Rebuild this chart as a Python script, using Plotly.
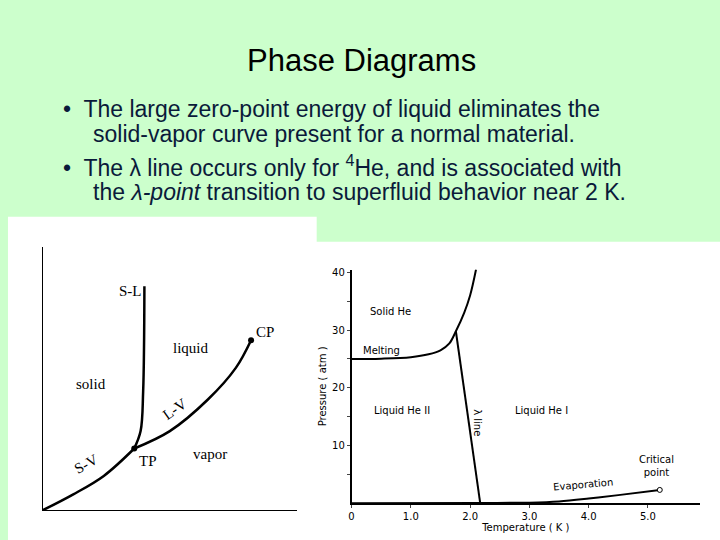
import plotly.graph_objects as go

# left: generic phase diagram (arbitrary units)
sv_t = [0, 1.2, 2.4, 3.6]
sv_p = [0, 0.6, 1.3, 2.34]
sl_t = [3.6, 3.85, 3.95, 4.0]
sl_p = [2.34, 3.0, 4.5, 8.5]
lv_t = [3.6, 5.0, 6.5, 7.6, 8.2]
lv_p = [2.34, 3.0, 4.2, 5.4, 6.45]

# right: helium-4 phase diagram
melt_t = [0, 0.5, 1.0, 1.3, 1.5, 1.65, 1.76, 1.9, 2.0, 2.1]
melt_p = [25, 25.05, 25.3, 25.8, 26.5, 27.7, 29.8, 33, 36, 40.5]
lam_t = [1.76, 2.17]
lam_p = [29.8, 0.05]
evap_t = [0, 2.17, 3.0, 3.5, 4.0, 4.5, 5.2]
evap_p = [0, 0.05, 0.1, 0.3, 0.8, 1.4, 2.3]

fig = go.Figure()
ln = dict(color='black', width=2.5)
for x, y in [(sv_t, sv_p), (sl_t, sl_p), (lv_t, lv_p)]:
    fig.add_trace(go.Scatter(x=x, y=y, mode='lines', line=dict(shape='spline', **ln),
                             xaxis='x', yaxis='y'))
fig.add_trace(go.Scatter(x=[sv_t[-1], lv_t[-1]], y=[sv_p[-1], lv_p[-1]], mode='markers',
                         marker=dict(color='black', size=6), xaxis='x', yaxis='y'))
for x, y in [(melt_t, melt_p), (lam_t, lam_p), (evap_t, evap_p)]:
    fig.add_trace(go.Scatter(x=x, y=y, mode='lines', line=dict(shape='spline', color='black', width=2),
                             xaxis='x2', yaxis='y2'))
fig.add_trace(go.Scatter(x=[evap_t[-1]], y=[evap_p[-1]], mode='markers',
                         marker=dict(color='white', size=5, line=dict(color='black', width=1)),
                         xaxis='x2', yaxis='y2'))

serif = dict(family='Liberation Serif', size=15, color='black')
sans = dict(family='DejaVu Sans', size=10, color='black')
ann = []
for t, x, y, ang in [('S-L', 3.45, 8.3, 0), ('liquid', 5.85, 6.15, 0), ('solid', 1.9, 4.8, 0),
                     ('CP', 8.75, 6.75, 0), ('L-V', 5.2, 3.85, -35), ('vapor', 6.6, 2.15, 0),
                     ('TP', 4.15, 1.85, 0), ('S-V', 1.7, 1.75, -30)]:
    ann.append(dict(text=t, x=x, y=y, xref='x', yref='y', showarrow=False, font=serif, textangle=ang))
ann.append(dict(text='<i>P</i>', x=0, y=10.3, xref='x', yref='y', showarrow=False, font=serif))
ann.append(dict(text='<i>T</i>', x=10.3, y=0, xref='x', yref='y', showarrow=False, font=serif))
for t, x, y, ang in [('Solid He', 0.65, 33.2, 0), ('Melting', 0.5, 26.4, 0),
                     ('Liquid He II', 0.85, 16, 0), ('Liquid He I', 3.2, 16, 0),
                     ('λ line', 2.12, 14, 90), ('Evaporation', 3.9, 3.3, -5),
                     ('Critical<br>point', 5.15, 6.5, 0)]:
    ann.append(dict(text=t, x=x, y=y, xref='x2', yref='y2', showarrow=False, font=sans, textangle=ang))

ann.append(dict(text='Phase Diagrams', x=0.5, y=1 - 58 / 540, xref='paper', yref='paper',
                xanchor='center', yanchor='middle',
                showarrow=False, font=dict(family='Liberation Sans', size=31, color='black')))
bul = dict(family='Liberation Sans', size=23, color='#0a1a3a')
lines = [(107, '•  The large zero-point energy of liquid eliminates the', 58),
         (132, 'solid-vapor curve present for a normal material.', 88),
         (164, '•  The λ line occurs only for <sup>4</sup>He, and is associated with', 58),
         (190, 'the <i>λ-point</i> transition to superfluid behavior near 2 K.', 88)]
for py, t, px in lines:
    ann.append(dict(text=t, x=px / 720, y=1 - py / 540, xref='paper', yref='paper', xanchor='left',
                    yanchor='middle', showarrow=False, font=bul))

fig.update_layout(
    width=720, height=540, margin=dict(l=0, r=0, t=0, b=0), showlegend=False,
    paper_bgcolor='#ccffcc', plot_bgcolor='rgba(0,0,0,0)', annotations=ann,
    shapes=[dict(type='rect', xref='paper', yref='paper', x0=5 / 720, x1=315 / 720, y0=0, y1=1 - 215 / 540,
                 fillcolor='white', line_width=0, layer='below'),
            dict(type='rect', xref='paper', yref='paper', x0=310 / 720, x1=1, y0=0, y1=1 - 240 / 540,
                 fillcolor='white', line_width=0, layer='below')],
    xaxis=dict(domain=[40 / 720, 295 / 720], range=[0, 10], showgrid=False, zeroline=False,
               showticklabels=False, showline=True, linecolor='black'),
    yaxis=dict(domain=[30 / 540, 295 / 540], range=[0, 10], showgrid=False, zeroline=False,
               showticklabels=False, showline=True, linecolor='black'),
    xaxis2=dict(domain=[350 / 720, 700 / 720], range=[0, 5.88], anchor='y2', showgrid=False,
                zeroline=False, showline=True, linecolor='black', linewidth=2,
                tickvals=[0, 1, 2, 3, 4, 5], ticktext=['0', '1.0', '2.0', '3.0', '4.0', '5.0'],
                ticks='outside', ticklen=3, tickfont=sans,
                title=dict(text='Temperature ( K )', font=sans, standoff=2)),
    yaxis2=dict(domain=[37 / 540, 272 / 540], range=[0, 40.5], anchor='x2', showgrid=False,
                zeroline=False, showline=True, linecolor='black', linewidth=1.5,
                tickvals=[10, 20, 30, 40], ticks='outside', ticklen=3, tickfont=sans,
                minor=dict(tickvals=[5, 15, 25, 35], ticks='outside', ticklen=3),
                title=dict(text='Pressure ( atm )', font=sans, standoff=4)),
)
fig.write_html('out.html', config={'displayModeBar': False},
               post_script="document.body.style.margin='0';")
